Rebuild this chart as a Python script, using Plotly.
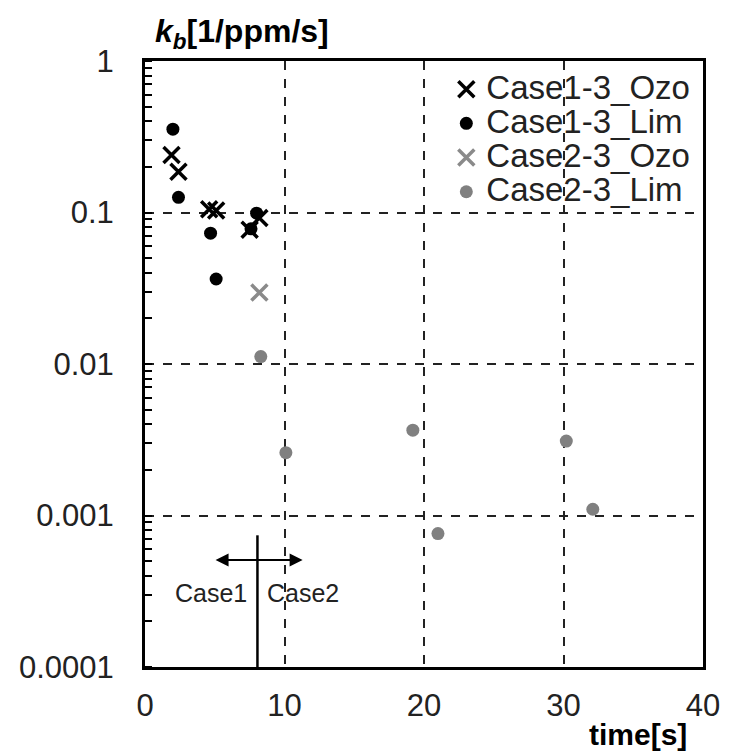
import math
import plotly.graph_objects as go

# Rate constant k_b versus time for the two cases
case1_ozo_t = [1.9, 2.4, 4.6, 5.1, 7.5, 8.2]
case1_ozo_k = [0.24, 0.186, 0.105, 0.103, 0.077, 0.092]

case1_lim_t = [2.0, 2.4, 4.7, 5.1, 7.6, 8.0]
case1_lim_k = [0.355, 0.126, 0.073, 0.0364, 0.078, 0.099]

case2_ozo_t = [8.2]
case2_ozo_k = [0.0296]

case2_lim_t = [8.3, 10.1, 19.2, 21.0, 30.2, 32.1]
case2_lim_k = [0.0112, 0.0026, 0.00366, 0.00076, 0.0031, 0.0011]

series_names = ["Case1-3_Ozo", "Case1-3_Lim", "Case2-3_Ozo", "Case2-3_Lim"]

y_tick_vals = [1e-4, 1e-3, 1e-2, 1e-1, 1]
y_tick_text = ["0.0001", "0.001", "0.01", "0.1", "1"]
x_tick_vals = [0, 10, 20, 30, 40]

# Boundary between Case1 and Case2 with its double-headed arrow
split_t = 8.06
split_k = [1e-4, 7.4e-4]
arrow_k = 5.08e-4
arrow_t = [4.95, 11.3]
label_k = 3.08e-4
case_labels = ["Case1", "Case2"]
case_label_t = [4.73, 11.3]

FONT = "Liberation Sans, Arial, sans-serif"


def legend_label(name):
    return '<span style="font-size:33px">' + name + "</span>"


fig = go.Figure()

fig.add_trace(go.Scatter(
    x=case1_ozo_t, y=case1_ozo_k, mode="markers", name=legend_label(series_names[0]),
    marker=dict(symbol="x-thin", size=16, color="black",
                line=dict(color="black", width=3.5)),
))
fig.add_trace(go.Scatter(
    x=case1_lim_t, y=case1_lim_k, mode="markers", name=legend_label(series_names[1]),
    marker=dict(symbol="circle", size=13, color="black"),
))
fig.add_trace(go.Scatter(
    x=case2_ozo_t, y=case2_ozo_k, mode="markers", name=legend_label(series_names[2]),
    marker=dict(symbol="x-thin", size=16, color="#8a8a8a",
                line=dict(color="#8a8a8a", width=3.5)),
))
fig.add_trace(go.Scatter(
    x=case2_lim_t, y=case2_lim_k, mode="markers", name=legend_label(series_names[3]),
    marker=dict(symbol="circle", size=13, color="#808080"),
))

# Vertical separator line
fig.add_trace(go.Scatter(
    x=[split_t, split_t], y=split_k, mode="lines",
    line=dict(color="black", width=2.5), showlegend=False, hoverinfo="skip",
))

# Double-headed arrow (annotation coordinates on a log axis are log10 values)
fig.add_annotation(
    x=arrow_t[1], y=math.log10(arrow_k), xref="x", yref="y",
    ax=arrow_t[0], ay=math.log10(arrow_k), axref="x", ayref="y",
    text="", showarrow=True, arrowhead=2, arrowside="end+start",
    arrowsize=1.3, arrowwidth=2, arrowcolor="black",
)
for lbl, t in zip(case_labels, case_label_t):
    fig.add_annotation(
        x=t, y=math.log10(label_k), xref="x", yref="y", text=lbl,
        showarrow=False, font=dict(family=FONT, size=25, color="#222222"),
    )

# Axis titles
fig.add_annotation(
    x=0.0, y=1.0, xref="paper", yref="paper",
    xanchor="left", yanchor="bottom", yshift=5, xshift=8,
    text="<b><i>k<sub>b</sub></i>[1/ppm/s]</b>", showarrow=False,
    font=dict(family=FONT, size=32, color="black"),
)
fig.add_annotation(
    x=1.0, y=0.0, xref="paper", yref="paper",
    xanchor="right", yanchor="top", yshift=-49, xshift=-14,
    text="<b>time[s]</b>", showarrow=False,
    font=dict(family=FONT, size=30, color="black"),
)

fig.update_layout(
    width=732, height=753,
    margin=dict(l=145, r=21, t=61, b=86),
    paper_bgcolor="white", plot_bgcolor="white",
    font=dict(family=FONT, color="#222222"),
    showlegend=True,
    legend=dict(
        x=0.54, y=0.99, xanchor="left", yanchor="top",
        bgcolor="rgba(255,255,255,0)", borderwidth=0,
        font=dict(family=FONT, size=24, color="#222222"),
        tracegroupgap=0, itemwidth=30,
    ),
)

fig.update_xaxes(
    range=[0, 40], tickvals=x_tick_vals, ticks="",
    showline=True, mirror=True, linecolor="black", linewidth=3,
    showgrid=True, gridcolor="#222222", gridwidth=2.2, griddash="dash",
    zeroline=False, tickfont=dict(family=FONT, size=31, color="#222222"),
    ticklabelstandoff=9,
)
fig.update_yaxes(
    type="log", range=[-4, 0], tickvals=y_tick_vals, ticktext=y_tick_text,
    ticks="", showline=True, mirror=True, linecolor="black", linewidth=3,
    showgrid=True, gridcolor="#222222", gridwidth=2.2, griddash="dash",
    zeroline=False, tickfont=dict(family=FONT, size=31, color="#222222"),
    ticklabelstandoff=22,
    minor=dict(ticks="inside", ticklen=7, tickwidth=2, tickcolor="black",
               showgrid=False, dtick="D1"),
)

fig.write_html("out.html")
